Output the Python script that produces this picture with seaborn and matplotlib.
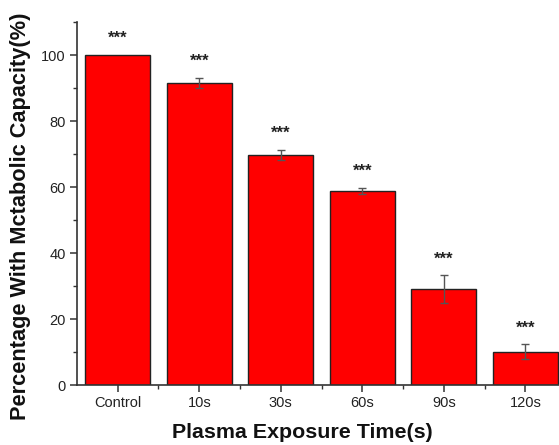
import matplotlib
matplotlib.use("Agg")
import matplotlib.pyplot as plt
from matplotlib.ticker import MultipleLocator, FixedLocator
import seaborn as sns
import pandas as pd

# Cell metabolic capacity after plasma exposure
categories = ["Control", "10s", "30s", "60s", "90s", "120s"]
values = [100.0, 91.5, 69.8, 58.9, 29.0, 10.1]
errors = [0.0, 1.5, 1.5, 0.9, 4.2, 2.2]
marks = ["***", "***", "***", "***", "***", "***"]

sns.set_style("ticks")
plt.rcParams["font.family"] = ["Liberation Sans", "DejaVu Sans"]

df = pd.DataFrame({"time": categories, "pct": values})

fig = plt.figure(figsize=(5.59, 4.45), dpi=100)
ax = fig.add_axes([0.1377, 0.1348, 0.875, 0.8157])

sns.barplot(data=df, x="time", y="pct", order=categories, color="#FF0000",
            saturation=1, width=0.8, edgecolor="#222222", linewidth=1.0,
            errorbar=None, ax=ax)

centers = [p.get_x() + p.get_width() / 2 for p in ax.patches]

# error bars only where a spread was measured
eb = [(c, v, e) for c, v, e in zip(centers, values, errors) if e > 0]
ax.errorbar([c for c, _, _ in eb], [v for _, v, _ in eb],
            yerr=[e for _, _, e in eb], fmt="none", ecolor="#555555",
            elinewidth=1.0, capsize=3, capthick=1.0, zorder=3)

# significance marks above each bar
for cx, v, e, m in zip(centers, values, errors, marks):
    ax.text(cx, v + e + 3.6, m, ha="center", va="baseline", fontsize=12,
            fontweight="bold", color="#222222")

ax.set_xlim(-0.5, 5.5)
ax.set_ylim(0, 110)
ax.yaxis.set_major_locator(MultipleLocator(20))
ax.yaxis.set_minor_locator(MultipleLocator(10))
ax.xaxis.set_minor_locator(FixedLocator([i + 0.5 for i in range(len(categories))]))

sns.despine(ax=ax)
for s in ("left", "bottom"):
    ax.spines[s].set_color("#333333")
    ax.spines[s].set_linewidth(1.2)

ax.tick_params(axis="both", which="major", length=5, width=1.1, color="#333333",
               labelsize=10.5, labelcolor="#222222", pad=3)
ax.tick_params(axis="both", which="minor", length=3, width=1.0, color="#333333")

ax.set_xlabel("Plasma Exposure Time(s)", fontsize=15.4, fontweight="bold",
              color="#111111")
ax.set_ylabel("Percentage With Mctabolic Capacity(%)", fontsize=15.7,
              fontweight="bold", color="#111111")
ax.xaxis.label.set_verticalalignment("center")
ax.yaxis.label.set_verticalalignment("center")
ax.yaxis.label.set_horizontalalignment("center")
ax.xaxis.set_label_coords(0.46, -0.132)
ax.yaxis.set_label_coords(-0.1145, 0.4656)

fig.savefig("out.png", dpi=100)
